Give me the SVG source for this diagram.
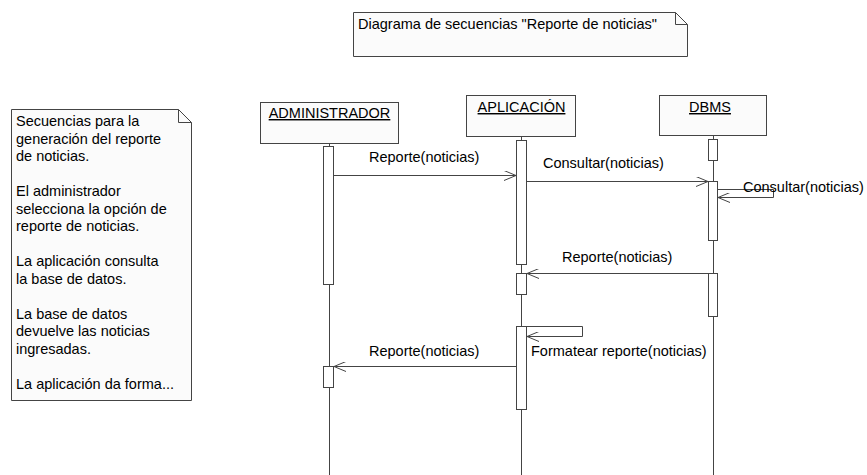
<svg xmlns="http://www.w3.org/2000/svg" width="867" height="475" viewBox="0 0 867 475">
<defs>
<style>
text{font-family:"Liberation Sans",Arial,sans-serif;font-size:14.5px;fill:#000}
.box{fill:#fbfbfb;stroke:#444;stroke-width:1}
.life{stroke:#444;stroke-width:1;fill:none}
.act{fill:#fff;stroke:#444;stroke-width:1}
.msg{stroke:#444;stroke-width:1;fill:none}
.u{text-decoration:underline}
</style>
<marker id="open" viewBox="0 0 12 10" refX="12" refY="5" markerWidth="12" markerHeight="10" markerUnits="userSpaceOnUse" orient="auto">
<path d="M0,0 L12,5 L0,10" fill="none" stroke="#444" stroke-width="1"/>
</marker>
</defs>
<rect width="867" height="475" fill="#fff"/>

<g id="note-title">
<path class="box" d="M353.5,12.5 H675.5 L687.5,24.5 V56.5 H353.5 Z"/>
<path class="life" d="M675.5,12.5 V24.5 H687.5"/>
<text x="358" y="29">Diagrama de secuencias "Reporte de noticias"</text>
</g>

<g id="note-left">
<path class="box" d="M11.5,109.5 H178.5 L191.5,122.5 V400.5 H11.5 Z"/>
<path class="life" d="M178.5,109.5 V122.5 H191.5"/>
<text x="16" y="126">Secuencias para la</text>
<text x="16" y="143.5">generación del reporte</text>
<text x="16" y="161">de noticias.</text>
<text x="16" y="196">El administrador</text>
<text x="16" y="213.5">selecciona la opción de</text>
<text x="16" y="231">reporte de noticias.</text>
<text x="16" y="266">La aplicación consulta</text>
<text x="16" y="283.5">la base de datos.</text>
<text x="16" y="318.5">La base de datos</text>
<text x="16" y="336">devuelve las noticias</text>
<text x="16" y="353.5">ingresadas.</text>
<text x="16" y="388.5">La aplicación da forma...</text>
</g>

<g id="lifelines">
<line class="life" x1="329.5" y1="143" x2="329.5" y2="475"/>
<line class="life" x1="521.5" y1="136" x2="521.5" y2="475"/>
<line class="life" x1="713.5" y1="135" x2="713.5" y2="475"/>
</g>

<g id="administrador">
<rect class="box" x="260.5" y="102.5" width="138" height="41"/>
<text x="329.5" y="118" text-anchor="middle" class="u">ADMINISTRADOR</text>
<rect class="act" x="323.5" y="146.5" width="10" height="138"/>
<rect class="act" x="323.5" y="366.5" width="10" height="21"/>
</g>

<g id="aplicacion">
<rect class="box" x="466.5" y="95.5" width="109" height="41"/>
<text x="521.5" y="112" text-anchor="middle" class="u">APLICACIÓN</text>
<rect class="act" x="516.5" y="140.5" width="10" height="124"/>
<rect class="act" x="516.5" y="273.5" width="10" height="21"/>
<rect class="act" x="516.5" y="326.5" width="10" height="83"/>
</g>

<g id="dbms">
<rect class="box" x="659.5" y="95.5" width="107" height="40"/>
<text x="710" y="112" text-anchor="middle" class="u">DBMS</text>
<rect class="act" x="708.5" y="139.5" width="9" height="21"/>
<rect class="act" x="708.5" y="181.5" width="9" height="59"/>
<rect class="act" x="708.5" y="273.5" width="9" height="43"/>
</g>

<g id="connectors">
<line class="msg" x1="334" y1="175.5" x2="516" y2="175.5" marker-end="url(#open)"/>
<text x="369" y="162">Reporte(noticias)</text>
<line class="msg" x1="527" y1="181.5" x2="708" y2="181.5" marker-end="url(#open)"/>
<text x="543" y="168">Consultar(noticias)</text>
<path class="msg" d="M718,189.5 H773.5 V197.5 H718" marker-end="url(#open)"/>
<text x="743" y="192">Consultar(noticias)</text>
<line class="msg" x1="708" y1="273.5" x2="527" y2="273.5" marker-end="url(#open)"/>
<text x="562" y="262">Reporte(noticias)</text>
<path class="msg" d="M527,326.5 H582.5 V336.5 H527" marker-end="url(#open)"/>
<text x="531" y="356">Formatear reporte(noticias)</text>
<line class="msg" x1="516" y1="366.5" x2="334" y2="366.5" marker-end="url(#open)"/>
<text x="369" y="356">Reporte(noticias)</text>
</g>
</svg>
